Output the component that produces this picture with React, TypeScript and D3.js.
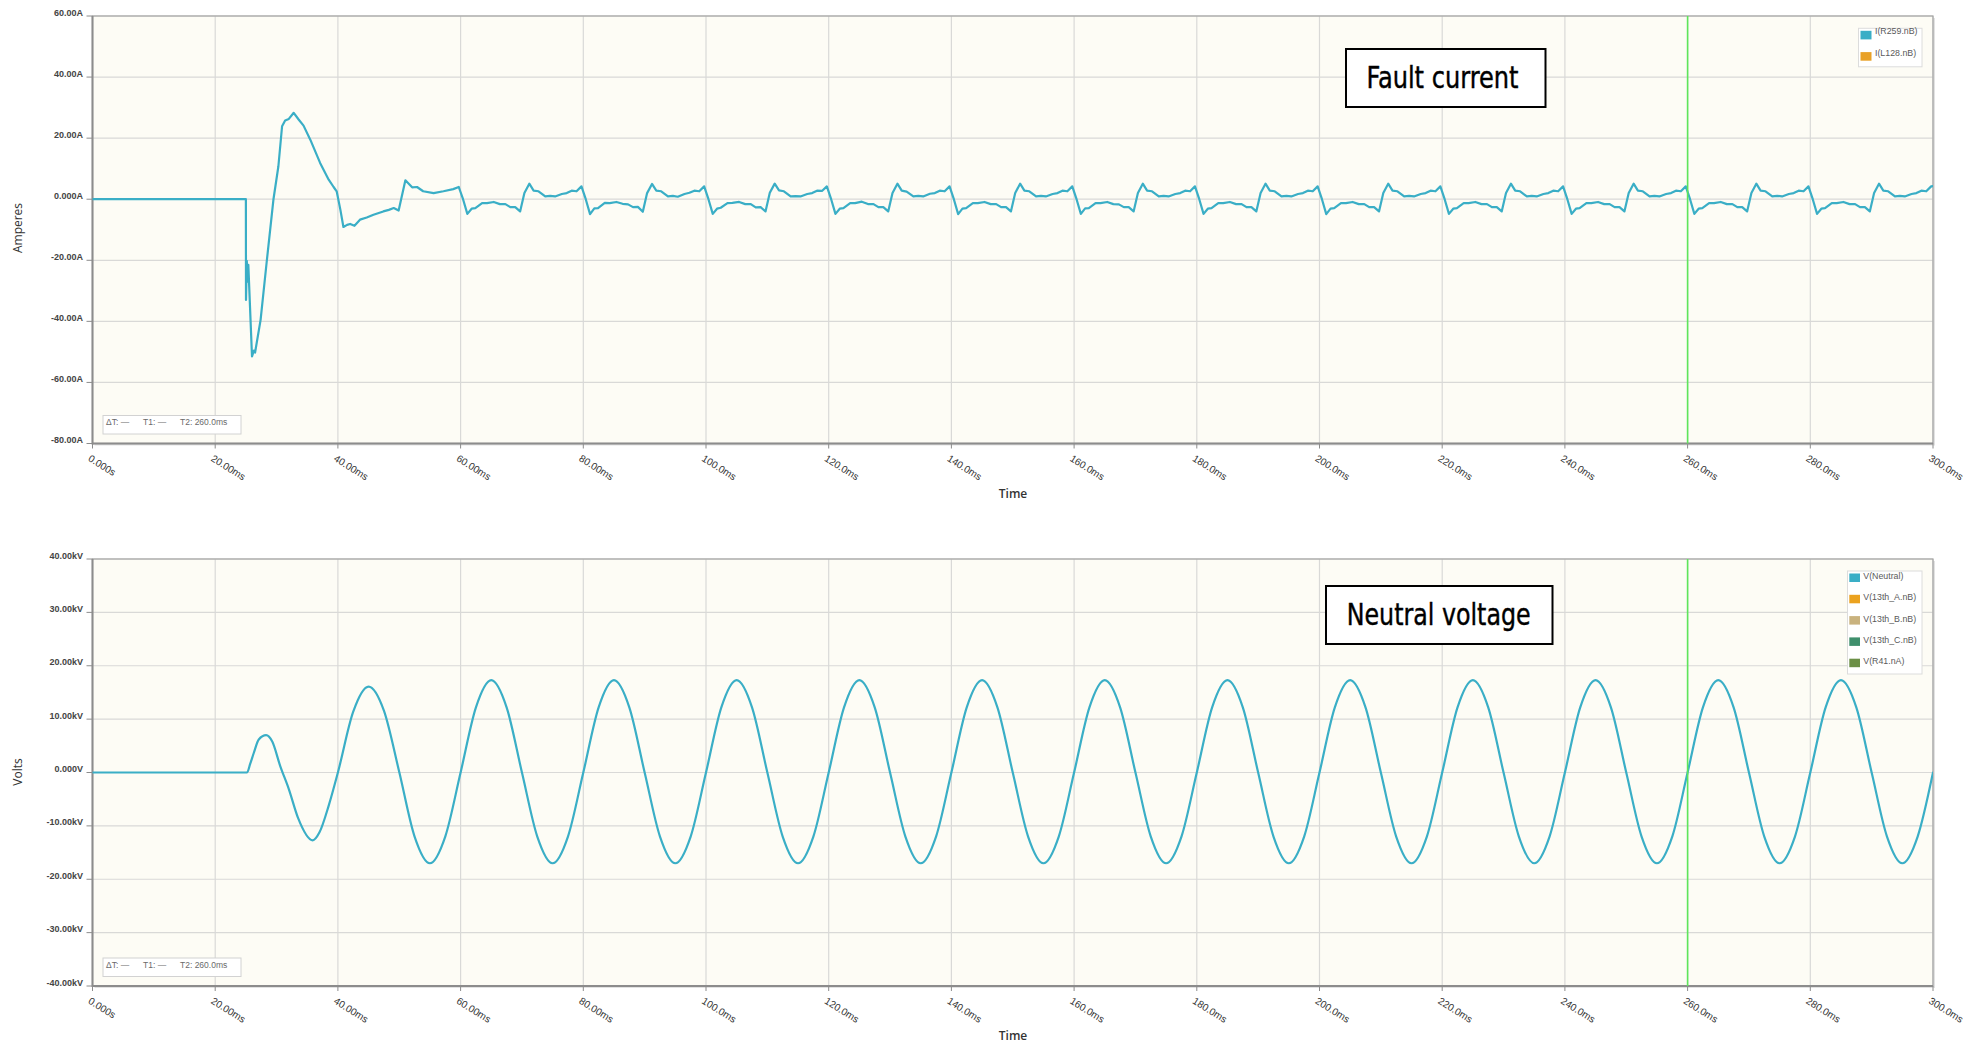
import React from 'react';
import * as d3 from 'd3';

// ---------- data ----------
const timeTicks = [0, 20, 40, 60, 80, 100, 120, 140, 160, 180, 200, 220, 240, 260, 280, 300];
const timeLabels = ['0.000s', '20.00ms', '40.00ms', '60.00ms', '80.00ms', '100.0ms', '120.0ms', '140.0ms', '160.0ms', '180.0ms', '200.0ms', '220.0ms', '240.0ms', '260.0ms', '280.0ms', '300.0ms'];

const ampTicks = [60, 40, 20, 0, -20, -40, -60, -80];
const ampLabels = ['60.00A', '40.00A', '20.00A', '0.000A', '-20.00A', '-40.00A', '-60.00A', '-80.00A'];

const voltTicks = [40, 30, 20, 10, 0, -10, -20, -30, -40];
const voltLabels = ['40.00kV', '30.00kV', '20.00kV', '10.00kV', '0.000V', '-10.00kV', '-20.00kV', '-30.00kV', '-40.00kV'];

const cursorTime = 260;

const currentLegend = ['I(R259.nB)', 'I(L128.nB)'];
const currentLegendColors = ['#3aaec6', '#e9a127'];
const voltLegend = ['V(Neutral)', 'V(13th_A.nB)', 'V(13th_B.nB)', 'V(13th_C.nB)', 'V(R41.nA)'];
const voltLegendColors = ['#3aaec6', '#eba21f', '#c9b27e', '#3f8f6c', '#6b8f46'];

// fault current [ms, A]
const faultCurrent: [number, number][] = [
  [0, 0], [25.0, 0], [25.02, -33], [25.15, -20.2], [25.3, -27], [25.4, -21.5], [26.0, -51.5], [26.3, -49.6], [26.5, -50.2],
  [27.4, -39.5], [28.4, -20.4], [29.5, 0], [30.3, 10.8], [30.9, 23.9], [31.4, 25.8], [32.0, 26.3], [32.8, 28.3], [33.6, 26.1],
  [34.4, 24.1], [35.5, 19.5], [37.1, 11.9], [38.5, 6.4], [39.3, 4.0], [39.8, 2.6], [40.4, -3.4], [40.9, -9.1], [41.5, -8.4],
  [42.0, -8.1], [42.7, -8.7], [43.6, -6.7], [44.7, -6.0], [45.8, -5.1], [47.4, -4.0], [48.3, -3.5], [49.1, -2.9], [49.9, -3.7],
  [51.0, 6.2], [52.1, 3.9], [52.9, 4.0], [53.9, 2.6], [55.6, 2.0], [57.2, 2.6], [58.8, 3.3], [59.7, 4.0],
  [60.4, 0], [61.1, -4.8], [61.8, -3.1], [62.4, -2.9], [63.5, -1.3], [64.3, -1.3], [65.4, -0.9], [66.4, -1.6], [67.3, -1.6], [68.1, -2.6], [68.9, -2.6], [69.7, -4.0], [70.4, 2.0], [71.2, 5.1], [71.9, 2.8], [72.7, 2.6], [73.8, 0.9], [74.6, 1.1], [75.4, 0.9], [76.5, 1.7], [77.3, 2.0], [78.1, 2.8], [78.9, 2.6], [79.7, 4.2],
  [80.4, 0], [81.1, -4.9], [81.8, -3.0], [82.4, -2.9], [83.5, -1.2], [84.3, -1.3], [85.4, -0.9], [86.4, -1.5], [87.3, -1.7], [88.1, -2.6], [88.9, -2.5], [89.7, -4.1], [90.4, 2.0], [91.2, 5.0], [91.9, 2.8], [92.7, 2.6], [93.8, 0.9], [94.6, 1.1], [95.4, 0.8], [96.5, 1.7], [97.3, 2.1], [98.1, 2.8], [98.9, 2.6], [99.7, 4.2],
  [100.4, 0], [101.1, -4.8], [101.8, -3.1], [102.4, -2.8], [103.5, -1.3], [104.3, -1.2], [105.4, -0.9], [106.4, -1.6], [107.3, -1.6], [108.1, -2.7], [108.9, -2.6], [109.7, -4.0], [110.4, 2.1], [111.2, 5.1], [111.9, 2.9], [112.7, 2.6], [113.8, 0.9], [114.6, 1.0], [115.4, 0.9], [116.5, 1.7], [117.3, 2.0], [118.1, 2.8], [118.9, 2.7], [119.7, 4.2],
  [120.4, 0], [121.1, -4.8], [121.8, -3.1], [122.4, -2.9], [123.5, -1.3], [124.3, -1.3], [125.4, -0.8], [126.4, -1.6], [127.3, -1.6], [128.1, -2.6], [128.9, -2.6], [129.7, -4.0], [130.4, 2.0], [131.2, 5.1], [131.9, 2.8], [132.7, 2.5], [133.8, 0.9], [134.6, 1.1], [135.4, 0.9], [136.5, 1.8], [137.3, 2.0], [138.1, 2.8], [138.9, 2.6], [139.7, 4.2],
  [140.4, 0], [141.1, -4.9], [141.8, -3.1], [142.4, -2.9], [143.5, -1.3], [144.3, -1.3], [145.4, -0.9], [146.4, -1.6], [147.3, -1.6], [148.1, -2.6], [148.9, -2.6], [149.7, -4.0], [150.4, 2.0], [151.2, 5.1], [151.9, 2.8], [152.7, 2.6], [153.8, 0.9], [154.6, 1.1], [155.4, 0.9], [156.5, 1.7], [157.3, 2.0], [158.1, 2.8], [158.9, 2.6], [159.7, 4.2],
  [160.4, 0], [161.1, -4.8], [161.8, -3.0], [162.4, -2.9], [163.5, -1.3], [164.3, -1.3], [165.4, -0.9], [166.4, -1.6], [167.3, -1.7], [168.1, -2.6], [168.9, -2.6], [169.7, -4.0], [170.4, 2.0], [171.2, 5.1], [171.9, 2.8], [172.7, 2.6], [173.8, 0.9], [174.6, 1.1], [175.4, 0.9], [176.5, 1.7], [177.3, 2.0], [178.1, 2.8], [178.9, 2.6], [179.7, 4.2],
  [180.4, 0], [181.1, -4.8], [181.8, -3.1], [182.4, -2.9], [183.5, -1.3], [184.3, -1.3], [185.4, -0.9], [186.4, -1.6], [187.3, -1.6], [188.1, -2.6], [188.9, -2.6], [189.7, -4.0], [190.4, 2.0], [191.2, 5.1], [191.9, 2.8], [192.7, 2.6], [193.8, 0.9], [194.6, 1.1], [195.4, 0.9], [196.5, 1.7], [197.3, 2.0], [198.1, 2.8], [198.9, 2.6], [199.7, 4.2],
  [200.4, 0], [201.1, -4.9], [201.8, -3.1], [202.4, -2.9], [203.5, -1.3], [204.3, -1.3], [205.4, -0.9], [206.4, -1.6], [207.3, -1.6], [208.1, -2.6], [208.9, -2.6], [209.7, -4.0], [210.4, 2.0], [211.2, 5.1], [211.9, 2.8], [212.7, 2.6], [213.8, 0.9], [214.6, 1.1], [215.4, 0.9], [216.5, 1.7], [217.3, 2.0], [218.1, 2.8], [218.9, 2.6], [219.7, 4.2],
  [220.4, 0], [221.1, -4.8], [221.8, -3.1], [222.4, -2.9], [223.5, -1.3], [224.3, -1.3], [225.4, -0.9], [226.4, -1.6], [227.3, -1.6], [228.1, -2.6], [228.9, -2.6], [229.7, -4.0], [230.4, 2.0], [231.2, 5.1], [231.9, 2.8], [232.7, 2.6], [233.8, 0.9], [234.6, 1.1], [235.4, 0.9], [236.5, 1.7], [237.3, 2.0], [238.1, 2.8], [238.9, 2.6], [239.7, 4.2],
  [240.4, 0], [241.1, -4.8], [241.8, -3.1], [242.4, -2.9], [243.5, -1.3], [244.3, -1.3], [245.4, -0.9], [246.4, -1.6], [247.3, -1.6], [248.1, -2.6], [248.9, -2.6], [249.7, -4.0], [250.4, 2.0], [251.2, 5.1], [251.9, 2.8], [252.7, 2.6], [253.8, 0.9], [254.6, 1.1], [255.4, 0.9], [256.5, 1.7], [257.3, 2.0], [258.1, 2.8], [258.9, 2.6], [259.7, 4.2],
  [260.4, 0], [261.1, -4.8], [261.8, -3.1], [262.4, -2.9], [263.5, -1.3], [264.3, -1.3], [265.4, -0.9], [266.4, -1.6], [267.3, -1.6], [268.1, -2.6], [268.9, -2.6], [269.7, -4.0], [270.4, 2.0], [271.2, 5.1], [271.9, 2.8], [272.7, 2.6], [273.8, 0.9], [274.6, 1.1], [275.4, 0.9], [276.5, 1.7], [277.3, 2.0], [278.1, 2.8], [278.9, 2.6], [279.7, 4.2],
  [280.4, 0], [281.1, -4.8], [281.8, -3.1], [282.4, -2.9], [283.5, -1.3], [284.3, -1.3], [285.4, -0.9], [286.4, -1.6], [287.3, -1.6], [288.1, -2.6], [288.9, -2.6], [289.7, -4.0], [290.4, 2.0], [291.2, 5.1], [291.9, 2.8], [292.7, 2.6], [293.8, 0.9], [294.6, 1.1], [295.4, 0.9], [296.5, 1.7], [297.3, 2.0], [298.1, 2.8], [298.9, 2.6], [299.7, 4.2], [300, 4.3],
];

// neutral voltage [ms, kV]
const neutralVoltage: [number, number][] = [
  [0, 0], [25.2, 0], [25.7, 1.6], [26.3, 3.7], [27.1, 6.2], [28.3, 7.0], [29.3, 5.8], [30.6, 1.2], [32.0, -3.1], [33.5, -8.5],
  [35.9, -12.7], [37.0, -11.2], [38.5, -6.2], [40, 0], [42.5, 11.4], [45, 16.1], [47.5, 11.6], [50, 0.1], [52.5, -12.0], [55, -17.0], [57.5, -12.0],
  [60, 0], [62.5, 12.2], [65, 17.3], [67.5, 12.2], [70, 0], [72.5, -12.0], [75, -17.0], [77.5, -12.0],
  [80, 0], [82.5, 12.2], [85, 17.3], [87.5, 12.2], [90, 0], [92.5, -12.0], [95, -17.0], [97.5, -12.0],
  [100, 0], [102.5, 12.2], [105, 17.3], [107.5, 12.2], [110, 0], [112.5, -12.0], [115, -17.0], [117.5, -12.0],
  [120, 0], [122.5, 12.2], [125, 17.3], [127.5, 12.2], [130, 0], [132.5, -12.0], [135, -17.0], [137.5, -12.0],
  [140, 0], [142.5, 12.2], [145, 17.3], [147.5, 12.2], [150, 0], [152.5, -12.0], [155, -17.0], [157.5, -12.0],
  [160, 0], [162.5, 12.2], [165, 17.3], [167.5, 12.2], [170, 0], [172.5, -12.0], [175, -17.0], [177.5, -12.0],
  [180, 0], [182.5, 12.2], [185, 17.3], [187.5, 12.2], [190, 0], [192.5, -12.0], [195, -17.0], [197.5, -12.0],
  [200, 0], [202.5, 12.2], [205, 17.3], [207.5, 12.2], [210, 0], [212.5, -12.0], [215, -17.0], [217.5, -12.0],
  [220, 0], [222.5, 12.2], [225, 17.3], [227.5, 12.2], [230, 0], [232.5, -12.0], [235, -17.0], [237.5, -12.0],
  [240, 0], [242.5, 12.2], [245, 17.3], [247.5, 12.2], [250, 0], [252.5, -12.0], [255, -17.0], [257.5, -12.0],
  [260, 0], [262.5, 12.2], [265, 17.3], [267.5, 12.2], [270, 0], [272.5, -12.0], [275, -17.0], [277.5, -12.0],
  [280, 0], [282.5, 12.2], [285, 17.3], [287.5, 12.2], [290, 0], [292.5, -12.0], [295, -17.0], [297.5, -12.0], [300, 0],
];

// ---------- layout ----------
const W = 1984;
const H = 1047;
const PLOT_L = 92.5;
const PLOT_R = 1933;
const LINE_COLOR = '#3aaec6';
const AXIS_FONT = '"Liberation Sans", Arial, sans-serif';
const TITLE_FONT = '"Open Sans", "Noto Sans", sans-serif';
const NOTE_FONT = '"Liberation Sans Narrow", "Arial Narrow", "DejaVu Sans Condensed", sans-serif';

const xScale = d3.scaleLinear().domain([0, 300]).range([PLOT_L, PLOT_R]);

type PanelProps = {
  id: string;
  top: number;
  bottom: number;
  yDomain: [number, number];
  yTicks: number[];
  yLabels: string[];
  yTitle: string;
  yTitleY: number;
  data: [number, number][];
  curve: d3.CurveFactory;
  legend: string[];
  legendColors: string[];
  legendBox: { x: number; y: number; w: number; h: number; sx: number; sw: number; sh: number; tx: number; fs: number; textDy: number };
  note: { text: string; x: number; y: number; w: number; h: number; tx: number; ty: number; tw: number };
};

function Panel(p: PanelProps) {
  const y = d3.scaleLinear().domain(p.yDomain).range([p.bottom, p.top]);
  const line = d3
    .line<[number, number]>()
    .x((d) => xScale(d[0]))
    .y((d) => y(d[1]))
    .curve(p.curve);
  const path = line(p.data) || '';
  const cx = xScale(cursorTime);
  const lb = p.legendBox;
  return (
    <g>
      <defs>
        <clipPath id={`clip-${p.id}`}>
          <rect x={PLOT_L} y={p.top} width={PLOT_R - PLOT_L} height={p.bottom - p.top} />
        </clipPath>
      </defs>
      {/* shadow */}
      <rect x={PLOT_L + 2} y={p.top + 2} width={PLOT_R - PLOT_L} height={p.bottom - p.top} fill="#e2e2e2" />
      <rect x={PLOT_L} y={p.top} width={PLOT_R - PLOT_L} height={p.bottom - p.top} fill="#fdfcf5" />
      {/* grid */}
      {p.yTicks.map((t) => (
        <line key={`gy${t}`} x1={PLOT_L} x2={PLOT_R} y1={y(t)} y2={y(t)} stroke="#d9d9d7" strokeWidth={1.2} />
      ))}
      {timeTicks.map((t) => (
        <line key={`gx${t}`} x1={xScale(t)} x2={xScale(t)} y1={p.top} y2={p.bottom} stroke="#d9d9d7" strokeWidth={1.2} />
      ))}
      {/* frame */}
      <rect x={PLOT_L} y={p.top} width={PLOT_R - PLOT_L} height={p.bottom - p.top} fill="none" stroke="#a3a3a3" strokeWidth={1.2} />
      <line x1={PLOT_L} x2={PLOT_L} y1={p.top} y2={p.bottom + 1} stroke="#8c8c8c" strokeWidth={2} />
      <line x1={PLOT_L} x2={PLOT_R} y1={p.bottom} y2={p.bottom} stroke="#8c8c8c" strokeWidth={2} />
      {/* y ticks */}
      {p.yTicks.map((t, i) => (
        <g key={`yt${t}`}>
          <line x1={PLOT_L - 6} x2={PLOT_L} y1={y(t)} y2={y(t)} stroke="#8c8c8c" strokeWidth={1} />
          <text x={83} y={y(t) - 0.5} textAnchor="end" fontFamily={AXIS_FONT} fontSize={9} fontWeight="bold" fill="#444">
            {p.yLabels[i]}
          </text>
        </g>
      ))}
      {/* x ticks */}
      {timeTicks.map((t, i) => (
        <g key={`xt${t}`}>
          <line x1={xScale(t)} x2={xScale(t)} y1={p.bottom} y2={p.bottom + 5} stroke="#8c8c8c" strokeWidth={1} />
          <text
            transform={`translate(${xScale(t) - 1},${p.bottom + 10.5}) rotate(32)`}
            dy="0.75em"
            fontFamily={AXIS_FONT}
            fontSize={10}
            fill="#333"
          >
            {timeLabels[i]}
          </text>
        </g>
      ))}
      {/* axis titles */}
      <text
        transform={`translate(22,${p.yTitleY}) rotate(-90)`}
        textAnchor="middle"
        fontFamily={TITLE_FONT}
        fontSize={12}
        fill="#333"
      >
        {p.yTitle}
      </text>
      <text x={1013} y={p.bottom + 54} textAnchor="middle" fontFamily={TITLE_FONT} fontSize={12} fontWeight={600} fill="#333">
        Time
      </text>
      {/* data */}
      <g clipPath={`url(#clip-${p.id})`}>
        <path d={path} fill="none" stroke={LINE_COLOR} strokeWidth={2.2} strokeLinejoin="round" strokeLinecap="round" />
      </g>
      {/* cursor */}
      <line x1={cx} x2={cx} y1={p.top} y2={p.bottom} stroke="#5ee65a" strokeWidth={1.6} />
      {/* cursor readout */}
      <rect x={103} y={p.bottom - 28} width={138} height={18.5} fill="#ffffff" stroke="#d2d2d2" strokeWidth={1} />
      <g fontFamily={AXIS_FONT} fontSize={8.5} fill="#6a6a6a">
        <text x={106} y={p.bottom - 18.5}>ΔT: —</text>
        <text x={143} y={p.bottom - 18.5}>T1: —</text>
        <text x={180} y={p.bottom - 18.5}>T2: 260.0ms</text>
      </g>
      {/* legend */}
      <rect x={lb.x} y={lb.y} width={lb.w} height={lb.h} fill="#ffffff" stroke="#dcdcdc" strokeWidth={1} />
      {p.legend.map((name, i) => (
        <g key={name}>
          <rect x={lb.sx} y={lb.y + 2.5 + i * 21.3} width={lb.sw} height={lb.sh} fill={p.legendColors[i]} />
          <text x={lb.tx} y={lb.y + 2.5 + i * 21.3 + lb.textDy} fontFamily={AXIS_FONT} fontSize={lb.fs} fill="#5a5a5a">
            {name}
          </text>
        </g>
      ))}
      {/* annotation */}
      <rect x={p.note.x} y={p.note.y} width={p.note.w} height={p.note.h} fill="#ffffff" stroke="#000" strokeWidth={2} />
      <text
        x={p.note.tx}
        y={p.note.ty}
        fontFamily={NOTE_FONT}
        fontSize={30}
        fill="#000"
        stroke="#000"
        strokeWidth={0.4}
        textLength={p.note.tw}
        lengthAdjust="spacingAndGlyphs"
      >
        {p.note.text}
      </text>
    </g>
  );
}

export default function App() {
  return (
    <svg
      width={W}
      height={H}
      viewBox={`0 0 ${W} ${H}`}
      style={{ position: 'absolute', left: 0, top: 0, background: '#ffffff' }}
    >
      <rect x={0} y={0} width={W} height={H} fill="#ffffff" />
      <Panel
        id="current"
        top={16}
        bottom={443.5}
        yDomain={[-80, 60]}
        yTicks={ampTicks}
        yLabels={ampLabels}
        yTitle="Amperes"
        yTitleY={228}
        data={faultCurrent}
        curve={d3.curveLinear}
        legend={currentLegend}
        legendColors={currentLegendColors}
        legendBox={{ x: 1858.5, y: 28.3, w: 63.5, h: 38.5, sx: 1860.5, sw: 11, sh: 8.6, tx: 1875, fs: 8.8, textDy: 3.5 }}
        note={{ text: 'Fault current', x: 1346, y: 49, w: 199.5, h: 58, tx: 1366.5, ty: 87.5, tw: 152 }}
      />
      <Panel
        id="voltage"
        top={559}
        bottom={986}
        yDomain={[-40, 40]}
        yTicks={voltTicks}
        yLabels={voltLabels}
        yTitle="Volts"
        yTitleY={772}
        data={neutralVoltage}
        curve={d3.curveMonotoneX}
        legend={voltLegend}
        legendColors={voltLegendColors}
        legendBox={{ x: 1847.5, y: 571, w: 74.5, h: 103, sx: 1849.3, sw: 10.7, sh: 8.5, tx: 1863.3, fs: 8.8, textDy: 5.5 }}
        note={{ text: 'Neutral voltage', x: 1326, y: 586, w: 226.5, h: 58, tx: 1346.7, ty: 624.5, tw: 184 }}
      />
    </svg>
  );
}
